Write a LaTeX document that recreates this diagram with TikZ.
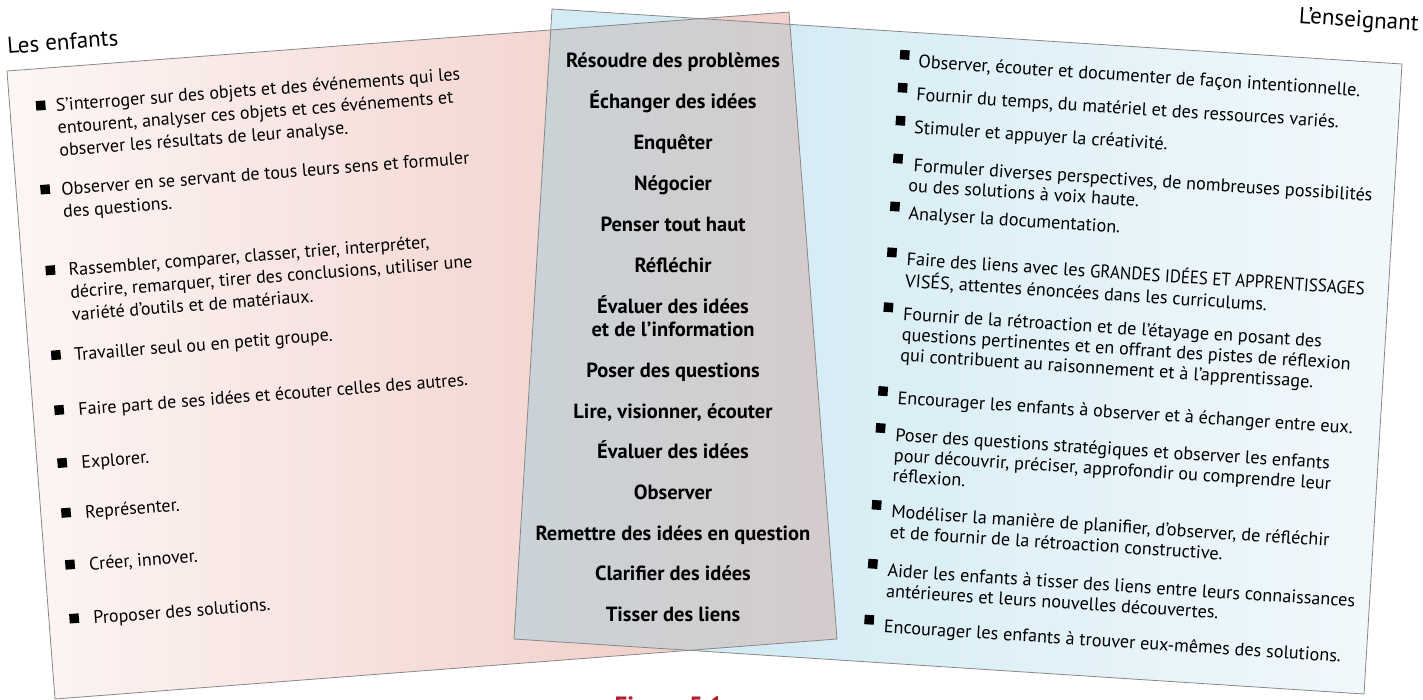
\documentclass[tikz,border=0pt]{standalone}
\usepackage{graphicx}
\usepackage{fontspec}
\setmainfont{PT Sans}
\definecolor{pinkc}{RGB}{242,210,204}
\definecolor{bluec}{RGB}{212,235,244}
\definecolor{grayL}{RGB}{201,211,216}
\definecolor{grayR}{RGB}{213,203,203}
\definecolor{edgec}{RGB}{135,135,135}
\definecolor{figred}{RGB}{178,32,42}
\pgfdeclarehorizontalshading{pinkgrad}{100bp}{color(0bp)=(white); color(16bp)=(white); color(62bp)=(pinkc); color(100bp)=(pinkc)}
\pgfdeclarehorizontalshading{bluegrad}{100bp}{color(0bp)=(bluec); color(38bp)=(bluec); color(92bp)=(white); color(100bp)=(white)}
\newcommand{\lns}[1]{\begin{tabular}[t]{@{}l@{}}#1\end{tabular}}
\begin{document}
\begin{tikzpicture}[x=1pt,y=-1pt,
  panel/.style={draw=edgec, line width=0.8pt},
  bul/.style={rectangle, fill=black, minimum size=9.5pt, inner sep=0pt},
  ltxt/.style={anchor=base west, inner sep=0pt, font=\fontsize{18}{22.5}\selectfont},
  rtxt/.style={anchor=base west, inner sep=0pt, font=\fontsize{18.2}{20.5}\selectfont},
  ctxt/.style={anchor=base, inner sep=0pt, font=\bfseries\fontsize{20.5}{23}\selectfont},
  ttl/.style={inner sep=0pt, font=\fontsize{23}{26}\selectfont},
  figcap/.style={anchor=north, inner sep=0pt, text=figred, font=\bfseries\fontsize{25}{30}\selectfont}]
\useasboundingbox (0,0) rectangle (1423,700);
% panel corners
\coordinate (pTL) at (7,71);   \coordinate (pTR) at (789,12);
\coordinate (pBR) at (837,639); \coordinate (pBL) at (55,699);
\coordinate (bTL) at (552,9);  \coordinate (bTR) at (1402,64);
\coordinate (bBR) at (1364,694); \coordinate (bBL) at (514,639);
% fills
\shade[shading=pinkgrad] (pTL) -- (pTR) -- (pBR) -- (pBL) -- cycle;
\shade[shading=bluegrad] (bTL) -- (bTR) -- (bBR) -- (bBL) -- cycle;
\begin{scope}
  \clip (pTL) -- (pTR) -- (pBR) -- (pBL) -- cycle;
  \clip (bTL) -- (bTR) -- (bBR) -- (bBL) -- cycle;
  \shade[left color=grayL, right color=grayR] (505,0) rectangle (845,700);
\end{scope}
% borders
\draw[panel] (pTL) -- (pTR) -- (pBR) -- (pBL) -- cycle;
\draw[panel] (bTL) -- (bTR) -- (bBR) -- (bBL) -- cycle;
% left panel
\begin{scope}[shift={(7,71)}, rotate=4.4, transform shape]
  \node[ttl, anchor=base west] (lestitle) at (2,-17) {Les enfants};
  \node[bul] (lb1) at (31,37) {};
  \node[ltxt] (lt1) at (46,44) {\lns{S’interroger sur des objets et des événements qui les\\entourent, analyser ces objets et ces événements et\\observer les résultats de leur analyse.}};
  \node[bul] (lb2) at (29,121) {};
  \node[ltxt] (lt2) at (45,128) {\lns{Observer en se servant de tous leurs sens et formuler\\des questions.}};
  \node[bul] (lb3) at (28,202) {};
  \node[ltxt] (lt3) at (46,209) {\lns{Rassembler, comparer, classer, trier, interpréter,\\décrire, remarquer, tirer des conclusions, utiliser une\\variété d’outils et de matériaux.}};
  \node[bul] (lb4) at (27,287) {};
  \node[ltxt] (lt4) at (45,294) {Travailler seul ou en petit groupe.};
  \node[bul] (lb5) at (26,342) {};
  \node[ltxt] (lt5) at (45,349) {Faire part de ses idées et écouter celles des autres.};
  \node[bul] (lb6) at (25,395) {};
  \node[ltxt] (lt6) at (44,402) {Explorer.};
  \node[bul] (lb7) at (25,445) {};
  \node[ltxt] (lt7) at (44,452) {Représenter.};
  \node[bul] (lb8) at (25,497) {};
  \node[ltxt] (lt8) at (44,504) {Créer, innover.};
  \node[bul] (lb9) at (25,551) {};
  \node[ltxt] (lt9) at (44,558) {Proposer des solutions.};
\end{scope}
% right panel
\begin{scope}[shift={(552,9)}, rotate=-3.7, transform shape]
  \node[ttl, anchor=base east] (enstitle) at (866,-34) {L’enseignant};
  \node[bul] (rb1) at (355,23) {};
  \node[rtxt] (rt1) at (369,35) {Observer, écouter et documenter de façon intentionnelle.};
  \node[bul] (rb2) at (355,56) {};
  \node[rtxt] (rt2) at (369,68) {Fournir du temps, du matériel et des ressources variés.};
  \node[bul] (rb3) at (355,89) {};
  \node[rtxt] (rt3) at (369,101) {Stimuler et appuyer la créativité.};
  \node[bul] (rb4) at (355,127) {};
  \node[rtxt] (rt4) at (367,139) {\lns{\hspace{4pt}Formuler diverses perspectives, de nombreuses possibilités\\ou des solutions à voix haute.}};
  \node[bul] (rb5) at (355,175) {};
  \node[rtxt] (rt5) at (369,187) {Analyser la documentation.};
  \node[bul] (rb6) at (355,221) {};
  \node[rtxt] (rt6) at (370,233) {\lns{Faire des liens avec les \scalebox{0.93}[1]{GRANDES IDÉES ET APPRENTISSAGES}\\VISÉS, attentes énoncées dans les curriculums.}};
  \node[bul] (rb7) at (355,276) {};
  \node[rtxt] (rt7) at (370,288) {\lns{Fournir de la rétroaction et de l’étayage en posant des\\questions pertinentes et en offrant des pistes de réflexion\\qui contribuent au raisonnement et à l’apprentissage.}};
  \node[bul] (rb8) at (355,360) {};
  \node[rtxt] (rt8) at (370,372) {Encourager les enfants à observer et à échanger entre eux.};
  \node[bul] (rb9) at (355,397) {};
  \node[rtxt] (rt9) at (370,409) {\lns{Poser des questions stratégiques et observer les enfants\\pour découvrir, préciser, approfondir ou comprendre leur\\réflexion.}};
  \node[bul] (rb10) at (356,474) {};
  \node[rtxt] (rt10) at (371,486) {\lns{Modéliser la manière de planifier, d’observer, de réfléchir\\et de fournir de la rétroaction constructive.}};
  \node[bul] (rb11) at (356,533) {};
  \node[rtxt] (rt11) at (371,545) {\lns{Aider les enfants à tisser des liens entre leurs connaissances\\antérieures et leurs nouvelles découvertes.}};
  \node[bul] (rb12) at (356,589) {};
  \node[rtxt] (rt12) at (371,601) {Encourager les enfants à trouver eux-mêmes des solutions.};
\end{scope}
% centre column
\node[ctxt] (c1) at (673,68) {Résoudre des problèmes};
\node[ctxt] (c2) at (673,109) {Échanger des idées};
\node[ctxt] (c3) at (673,150) {Enquêter};
\node[ctxt] (c4) at (673,191) {Négocier};
\node[ctxt] (c5) at (673,232) {Penser tout haut};
\node[ctxt] (c6) at (673,273) {Réfléchir};
\node[ctxt] (c7) at (673,313) {\begin{tabular}[t]{@{}c@{}}Évaluer des idées\\et de l’information\end{tabular}};
\node[ctxt] (c8) at (673,377) {Poser des questions};
\node[ctxt] (c9) at (673,418) {Lire, visionner, écouter};
\node[ctxt] (c10) at (673,458) {Évaluer des idées};
\node[ctxt] (c11) at (673,499) {Observer};
\node[ctxt] (c12) at (673,540) {Remettre des idées en question};
\node[ctxt] (c13) at (673,580) {Clarifier des idées};
\node[ctxt] (c14) at (673,621) {Tisser des liens};
% caption (cut by the page edge)
\node[figcap] (fig) at (669,696) {Figure 5.1};
\end{tikzpicture}
\end{document}
